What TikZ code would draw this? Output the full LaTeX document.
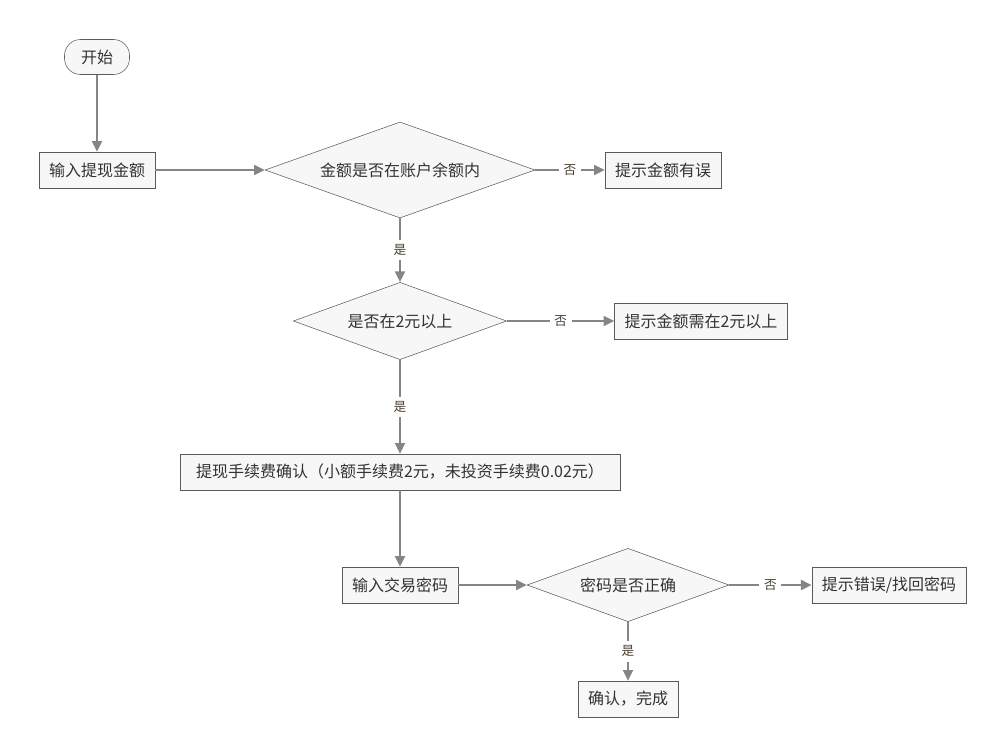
\documentclass[tikz,border=0pt]{standalone}
\usepackage{fontspec}
\setmainfont{Noto Sans CJK SC}
\usetikzlibrary{shapes.geometric,arrows.meta}
\definecolor{arrowgray}{HTML}{858585}
\definecolor{boxline}{HTML}{5A5A5A}
\definecolor{boxfill}{HTML}{F7F7F7}
\definecolor{textgray}{HTML}{333333}
\definecolor{labelbrown}{HTML}{4A4030}
\begin{document}
\begin{tikzpicture}[x=0.75pt,y=-0.75pt,
  box/.style={draw=boxline, fill=boxfill, text=textgray, font=\fontsize{12}{14}\selectfont, inner xsep=7.5pt, inner ysep=0pt, minimum height=27pt},
  startbox/.style={box, rounded corners=12pt, minimum width=48.75pt, minimum height=26.25pt},
  check/.style={draw=boxline, fill=boxfill, text=textgray, font=\fontsize{12}{14}\selectfont, diamond, aspect=3, inner sep=0pt},
  arr/.style={draw=arrowgray, line width=1.5pt, -{Triangle[length=8pt,width=7.5pt]}},
  lbl/.style={fill=white, text=labelbrown, font=\fontsize{9.5}{11}\selectfont, inner sep=3.5pt}]
  \useasboundingbox (0,0) rectangle (1007,756);

  \node[startbox] (start) at (97,57) {开始};
  \node[box] (amount) at (97,170) {输入提现金额};
  \node[check, minimum width=202.5pt, minimum height=72pt] (inbalance) at (400,170) {金额是否在账户余额内};
  \node[box] (wrongamount) at (663,170) {提示金额有误};
  \node[check, minimum width=160pt, minimum height=58pt] (overtwo) at (400,321) {是否在2元以上};
  \node[box] (mintwo) at (701,321) {提示金额需在2元以上};
  \node[box, minimum width=330pt] (fee) at (400,472) {提现手续费确认（小额手续费2元，未投资手续费0.02元）};
  \node[box] (password) at (400,585) {输入交易密码};
  \node[check, minimum width=151.5pt, minimum height=55pt] (pwcorrect) at (628,585) {密码是否正确};
  \node[box] (pwerror) at (889,585) {提示错误/找回密码};
  \node[box] (done) at (628,699) {确认，完成};

  \draw[arr] (start) -- (amount);
  \draw[arr] (amount) -- (inbalance);
  \draw[arr] (inbalance) -- node[lbl] {否} (wrongamount);
  \draw[arr] (inbalance) -- node[lbl] {是} (overtwo);
  \draw[arr] (overtwo) -- node[lbl] {否} (mintwo);
  \draw[arr] (overtwo) -- node[lbl] {是} (fee);
  \draw[arr] (fee) -- (password);
  \draw[arr] (password) -- (pwcorrect);
  \draw[arr] (pwcorrect) -- node[lbl] {否} (pwerror);
  \draw[arr] (pwcorrect) -- node[lbl] {是} (done);
\end{tikzpicture}
\end{document}
